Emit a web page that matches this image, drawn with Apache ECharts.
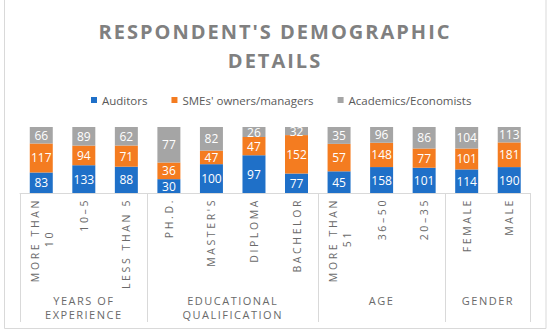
<!DOCTYPE html>
<html><head><meta charset="utf-8">
<script src="https://cdn.jsdelivr.net/npm/echarts@6/dist/echarts.min.js"></script>
<style>
html,body{margin:0;padding:0;background:#fff;}
#c{width:550px;height:334px;}
text[style*="lsTitle"]{letter-spacing:2px;}
text[style*="lsAxis"]{letter-spacing:2.6px;}
text[style*="lsGroup"]{letter-spacing:1.5px;}
</style></head><body><div id="c"></div>
<script>
const categories = ['MORE THAN\n10', '10–5', 'LESS THAN 5', 'PH.D.', "MASTER'S", 'DIPLOMA', 'BACHELOR', 'MORE THAN\n51', '36–50', '20–35', 'FEMALE', 'MALE'];
const groupNames = ['YEARS OF\nEXPERIENCE', 'EDUCATIONAL\nQUALIFICATION', 'AGE', 'GENDER'];
const groupSizes = [3, 4, 3, 2];
const seriesNames = ['Auditors', "SMEs' owners/managers", 'Academics/Economists'];
const auditors = [83, 133, 88, 30, 100, 97, 77, 45, 158, 101, 114, 190];
const smes = [117, 94, 71, 36, 47, 47, 152, 57, 148, 77, 101, 181];
const academics = [66, 89, 62, 77, 82, 26, 32, 35, 96, 86, 104, 113];

const colors = ['#1f70c8', '#f47c20', '#a5a5a5'];
const raw = [auditors, smes, academics];
const totals = categories.map((_, i) => raw.reduce((s, a) => s + a[i], 0));
const pct = raw.map(a => a.map((v, i) => v / totals[i] * 100));

// group axis: half-band slots
const nHalf = 2 * categories.length;
const halfSlots = Array.from({length: nHalf + 1}, () => '');
const boundaries = [0];
let acc = 0;
groupSizes.forEach((s, g) => { halfSlots[2 * acc + s] = groupNames[g]; acc += s; boundaries.push(2 * acc); });

const chart = echarts.init(document.getElementById('c'), null, {renderer: 'svg'});
const axisColor = '#d9d9d9';
const labelColor = '#6a6a6a';
const axFont = 'Open Sans, lsAxis';
const G = {left: 20, right: 19.5, top: 127, bottom: 141};
const shiftL = -6.5, shiftR = 8;
const hidden = {axisLine: {show: false}, axisTick: {show: false}, splitLine: {show: false}};
const rotLabel = (margin, fmt) => ({interval: 0, rotate: 90, margin, fontSize: 10.5, color: labelColor, fontFamily: axFont, formatter: fmt});

chart.setOption({
  animation: false,
  color: colors,
  title: {
    text: "RESPONDENT'S DEMOGRAPHIC\nDETAILS",
    left: 'center', top: 12,
    textStyle: {fontSize: 20, fontWeight: 'bold', color: '#808080', lineHeight: 29, fontFamily: 'Open Sans, lsTitle'}
  },
  legend: {
    top: 89, left: 86, icon: 'rect', itemWidth: 6, itemHeight: 6, itemGap: 24,
    textStyle: {fontSize: 11.5, color: '#595959', fontFamily: 'Open Sans'},
    data: seriesNames
  },
  grid: [
    {left: G.left, right: G.right, top: G.top, bottom: G.bottom, containLabel: false, outerBoundsMode: 'none'},
    {left: G.left + shiftL, right: G.right - shiftL, top: G.top, bottom: G.bottom, containLabel: false, outerBoundsMode: 'none'},
    {left: G.left + shiftR, right: G.right - shiftR, top: G.top, bottom: G.bottom, containLabel: false, outerBoundsMode: 'none'}
  ],
  xAxis: [{
    type: 'category', data: categories, position: 'bottom', gridIndex: 0,
    axisLine: {show: true, lineStyle: {color: axisColor, width: 1}},
    axisTick: {show: false}, splitLine: {show: false},
    axisLabel: rotLabel(5, v => v.indexOf('\n') >= 0 ? '' : v)
  }, {
    type: 'category', data: halfSlots, position: 'bottom', boundaryGap: false, gridIndex: 0,
    axisLine: {show: false},
    axisTick: {show: true, interval: i => boundaries.indexOf(i) >= 0, length: 129, lineStyle: {color: axisColor, width: 1}},
    axisLabel: {interval: 0, margin: 100, fontSize: 11, color: labelColor, lineHeight: 14, fontFamily: 'Open Sans, lsGroup'},
    splitLine: {show: false}
  }, Object.assign({
    type: 'category', data: categories, position: 'bottom', gridIndex: 1,
    axisLabel: rotLabel(5, v => v.indexOf('\n') >= 0 ? v.split('\n')[0] : '')
  }, hidden), Object.assign({
    type: 'category', data: categories, position: 'bottom', gridIndex: 2,
    axisLabel: rotLabel(37, v => v.indexOf('\n') >= 0 ? v.split('\n')[1] : '')
  }, hidden)],
  yAxis: [
    {type: 'value', min: 0, max: 100, show: false, gridIndex: 0},
    {type: 'value', min: 0, max: 100, show: false, gridIndex: 1},
    {type: 'value', min: 0, max: 100, show: false, gridIndex: 2}
  ],
  graphic: [{
    type: 'rect', silent: true,
    shape: {x: 4.5, y: -5, width: 541.5, height: 333.5},
    style: {fill: 'none', stroke: axisColor, lineWidth: 1}
  }],
  series: seriesNames.map((name, si) => ({
    name, type: 'bar', stack: 'total', barWidth: 23, xAxisIndex: 0, yAxisIndex: 0,
    data: pct[si],
    label: {
      show: true, position: 'inside', color: '#fff', fontSize: 12, fontFamily: 'Open Sans',
      formatter: p => String(raw[si][p.dataIndex])
    }
  }))
});
</script></body></html>
